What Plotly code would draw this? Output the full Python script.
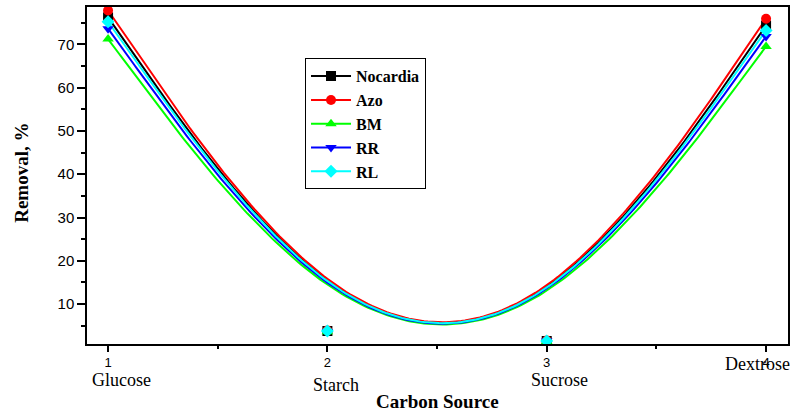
import numpy as np
import plotly.graph_objects as go

# ---- data ----
x_pos = [1, 2, 3, 4]
categories = ["Glucose", "Starch", "Sucrose", "Dextrose"]
series_names = ["Nocardia", "Azo", "BM", "RR", "RL"]
nocardia = [76.2, 3.8, 1.5, 74.3]
azo = [77.8, 3.9, 1.6, 75.9]
bm = [71.2, 3.6, 1.4, 69.5]
rr = [73.6, 3.7, 1.5, 71.8]
rl = [75.2, 3.8, 1.5, 73.2]
y_ticks = [10, 20, 30, 40, 50, 60, 70]

colors = ["#000000", "#FF0000", "#00FF00", "#0000FF", "#00FFFF"]
symbols = ["square", "circle", "triangle-up", "triangle-down", "diamond"]
values = [nocardia, azo, bm, rr, rl]


def bspline(xs, ys, n=60):
    """Uniform cubic B-spline with clamped (tripled) end control points."""
    px = [xs[0]] * 2 + list(xs) + [xs[-1]] * 2
    py = [ys[0]] * 2 + list(ys) + [ys[-1]] * 2
    outx, outy = [], []
    t = np.linspace(0, 1, n)
    b0 = (1 - t) ** 3 / 6
    b1 = (3 * t ** 3 - 6 * t ** 2 + 4) / 6
    b2 = (-3 * t ** 3 + 3 * t ** 2 + 3 * t + 1) / 6
    b3 = t ** 3 / 6
    for i in range(len(px) - 3):
        outx.extend(b0 * px[i] + b1 * px[i + 1] + b2 * px[i + 2] + b3 * px[i + 3])
        outy.extend(b0 * py[i] + b1 * py[i + 1] + b2 * py[i + 2] + b3 * py[i + 3])
    return outx, outy


fig = go.Figure()
for name, ys, c, s in zip(series_names, values, colors, symbols):
    cx, cy = bspline(x_pos, ys)
    fig.add_trace(go.Scatter(x=cx, y=cy, mode="lines", line=dict(color=c, width=2),
                             showlegend=False, hoverinfo="skip"))
for name, ys, c, s in zip(series_names, values, colors, symbols):
    fig.add_trace(go.Scatter(x=x_pos, y=ys, mode="markers",
                             marker=dict(color=c, symbol=s, size=10),
                             showlegend=False, name=name))
for name, ys, c, s in zip(series_names, values, colors, symbols):
    fig.add_trace(go.Scatter(x=[None], y=[None], mode="lines+markers", name="<b>" + name + "</b>",
                             line=dict(color=c, width=2),
                             marker=dict(color=c, symbol=s, size=10)))

fig.update_layout(
    width=803, height=412,
    margin=dict(l=87, r=15, t=5, b=68),
    paper_bgcolor="white", plot_bgcolor="white",
    showlegend=True,
    legend=dict(x=0.311, y=0.848, xanchor="left", yanchor="top",
                bordercolor="black", borderwidth=1, bgcolor="white",
                font=dict(family="Liberation Serif", size=16, color="black"),
                tracegroupgap=0, itemwidth=40),
    font=dict(family="Liberation Sans", color="black"),
)

fig.update_xaxes(range=[0.904, 4.10], tickvals=x_pos, ticktext=[str(v) for v in x_pos],
                 ticks="outside", ticklen=6, tickwidth=1.5, tickcolor="black",
                 showline=True, linecolor="black", linewidth=1.5, mirror=True,
                 showgrid=False, zeroline=False,
                 tickfont=dict(family="Liberation Sans", size=13, color="black"),
                 minor=dict(dtick=0.5, tick0=0, ticks="outside", ticklen=3,
                            tickcolor="black", showgrid=False))
fig.update_yaxes(range=[0.8, 78.6], tickvals=y_ticks,
                 ticks="outside", ticklen=8, tickwidth=1.5, tickcolor="black",
                 showline=True, linecolor="black", linewidth=1.5, mirror=True,
                 showgrid=False, zeroline=False,
                 tickfont=dict(family="Liberation Sans", size=15, color="black"),
                 minor=dict(dtick=5, tick0=5, ticks="outside", ticklen=4,
                            tickcolor="black", showgrid=False))

cat_y = [-0.106, -0.121, -0.106, -0.059]
cat_dx = [0.06, 0.04, 0.06, -0.04]
for xv, lab, yy, dx in zip(x_pos, categories, cat_y, cat_dx):
    fig.add_annotation(x=xv + dx, y=yy, xref="x", yref="paper", text=lab, showarrow=False,
                       xanchor="center", yanchor="middle",
                       font=dict(family="Liberation Serif", size=18, color="black"))

fig.add_annotation(x=0.5, y=-0.17, xref="paper", yref="paper", text="<b>Carbon Source</b>",
                   showarrow=False, xanchor="center", yanchor="middle",
                   font=dict(family="Liberation Serif", size=19, color="black"))
fig.add_annotation(x=-0.0927, y=0.508, xref="paper", yref="paper", text="<b>Removal, %</b>",
                   showarrow=False, textangle=-90, xanchor="center", yanchor="middle",
                   font=dict(family="Liberation Serif", size=19, color="black"))

fig.write_html("out.html")
